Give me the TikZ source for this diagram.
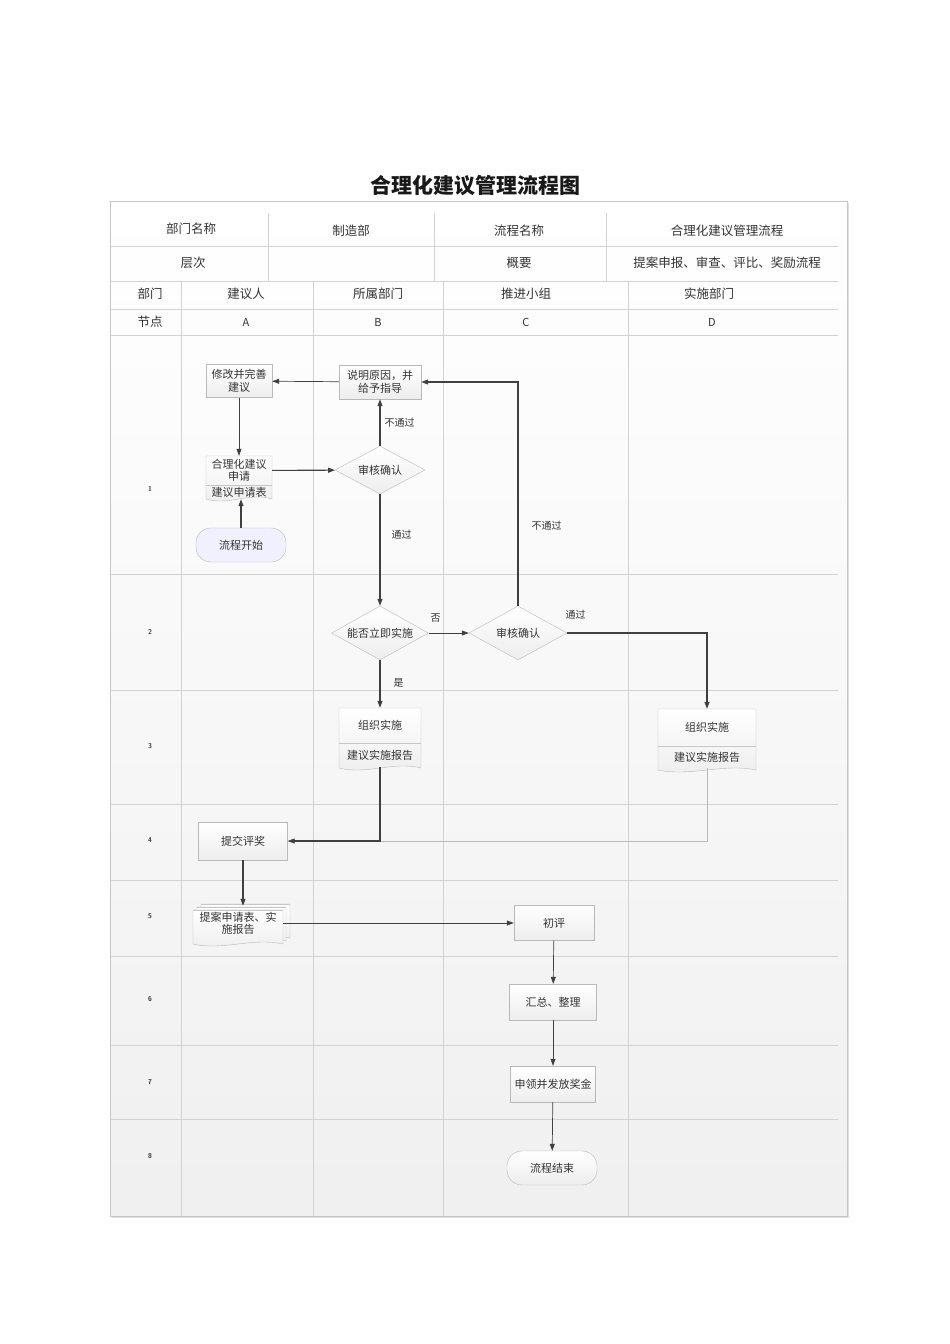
\documentclass[tikz,border=0pt]{standalone}
\usepackage{fontspec}
\setmainfont{Noto Sans CJK SC}
\usepackage{tikz}
\usetikzlibrary{arrows.meta, shapes.geometric, calc}

\tikzset{
    >={Triangle[length=7pt,width=5pt]},
    gridline/.style={gray!35, line width=0.6pt},
    hdtext/.style={font=\fontsize{12.5}{14}\selectfont, text=black!80},
    rownum/.style={font=\sffamily\bfseries\fontsize{7}{8}\selectfont, text=black!80},
    box/.style 2 args={draw=gray!55, top color=white, bottom color=gray!14,
        minimum width=#1, minimum height=#2, inner sep=0pt, align=center,
        font=\fontsize{11}{12.5}\selectfont, text=black!80},
    part/.style 2 args={minimum width=#1, minimum height=#2, inner sep=0pt,
        align=center, font=\fontsize{11}{12}\selectfont, text=black!80},
    decision/.style 2 args={diamond, draw=gray!55, top color=white, bottom color=gray!14,
        minimum width=#1, minimum height=#2, aspect=1.8, inner sep=0pt,
        font=\fontsize{11}{12}\selectfont, text=black!80},
    terminal/.style={draw=gray!55, rounded corners=15pt, minimum width=90pt,
        minimum height=34pt, font=\fontsize{11}{12}\selectfont, text=black!80},
    docfill/.style={draw=gray!55, top color=white, bottom color=gray!14},
    flow/.style={draw=black!75, line width=1.1pt, ->},
    thinflow/.style={draw=black!75, line width=0.7pt, ->},
    lbl/.style={font=\fontsize{10}{12}\selectfont, text=black!80, inner sep=1pt}
}

% document outline: left, top, right, bottom, divider
\newcommand\docshape[5]{%
    \draw[docfill] (#1,#2) -- (#3,#2) -- (#3,#4)
        .. controls ({(2*#3+#1)/3},{#4-7}) and ({(#3+2*#1)/3},{#4+7}) .. (#1,#4) -- cycle;
    \draw[gray!45] (#1,#5) -- (#3,#5);}

\begin{document}
\begin{tikzpicture}[x=1pt, y=-1pt]
    \useasboundingbox (0,0) rectangle (950,1344);

    % Title
    \node[font=\fontsize{21}{24}\selectfont\bfseries, text=black!90] (title) at (475,186) {合理化建议管理流程图};

    % Frame
    \fill[gray!25] (112,203) rectangle (849,1218);
    \draw[gray!45, top color=white, bottom color=gray!12] (110,201) rectangle (847,1216);

    % Table lines
    \draw[gridline] (110,246) -- (838,246) (110,281) -- (838,281) (110,309) -- (838,309)
        (110,335) -- (838,335) (110,574) -- (838,574) (110,690) -- (838,690)
        (110,804) -- (838,804) (110,880) -- (838,880) (110,956) -- (838,956)
        (110,1045) -- (838,1045) (110,1119) -- (838,1119);
    \draw[gridline] (268,213) -- (268,281) (434,213) -- (434,281) (606,213) -- (606,281);
    \draw[gridline] (181,281) -- (181,1216) (313,281) -- (313,1216)
        (443,281) -- (443,1216) (628,281) -- (628,1216);

    % Header texts
    \node[hdtext] (hdDept) at (191,229) {部门名称};
    \node[hdtext] (hdDeptVal) at (351,231) {制造部};
    \node[hdtext] (hdFlow) at (519,231) {流程名称};
    \node[hdtext] (hdFlowVal) at (727,231) {合理化建议管理流程};
    \node[hdtext] (hdLevel) at (193,263) {层次};
    \node[hdtext] (hdBrief) at (519,263) {概要};
    \node[hdtext] (hdBriefVal) at (727,263) {提案申报、审查、评比、奖励流程};

    % Lanes
    \node[hdtext] (laneHead) at (150,294) {部门};
    \node[hdtext] (laneA) at (246,294) {建议人};
    \node[hdtext] (laneB) at (378,294) {所属部门};
    \node[hdtext] (laneC) at (526,294) {推进小组};
    \node[hdtext] (laneD) at (709,294) {实施部门};
    \node[hdtext] (nodeHead) at (150,322) {节点};
    \node[hdtext, font=\fontsize{11}{12}\selectfont] (nodeA) at (246,322) {A};
    \node[hdtext, font=\fontsize{11}{12}\selectfont] (nodeB) at (378,322) {B};
    \node[hdtext, font=\fontsize{11}{12}\selectfont] (nodeC) at (526,322) {C};
    \node[hdtext, font=\fontsize{11}{12}\selectfont] (nodeD) at (712,322) {D};

    % Row numbers
    \node[rownum] (row1) at (150,489) {1};
    \node[rownum] (row2) at (150,632) {2};
    \node[rownum] (row3) at (150,746) {3};
    \node[rownum] (row4) at (150,840) {4};
    \node[rownum] (row5) at (150,916) {5};
    \node[rownum] (row6) at (150,999) {6};
    \node[rownum] (row7) at (150,1082) {7};
    \node[rownum] (row8) at (150,1156) {8};

    % Document shapes
    \docshape{206}{456}{272}{499}{485}
    \docshape{339}{708}{421}{768}{743}
    \docshape{658}{709}{756}{770}{746}
    \docshape{201}{904}{290}{938}{904}
    \docshape{197}{907}{286}{941}{907}
    \docshape{193}{910}{283}{944}{910}

    % Nodes
    \node[box={66pt}{33pt}] (modify) at (239,381) {修改并完善\\建议};
    \node[box={82pt}{34pt}] (explain) at (380,382) {说明原因，并\\给予指导};
    \node[part={66pt}{29pt}] (apply) at (239,470.5) {合理化建议\\申请};
    \node[part={66pt}{14pt}] (form) at (239,492) {建议申请表};
    \node[terminal, fill=blue!6] (start) at (241,545) {流程开始};
    \node[decision={90pt}{48pt}] (check1) at (380,470) {审核确认};
    \node[decision={97pt}{54pt}] (check2) at (380,633) {能否立即实施};
    \node[decision={98pt}{54pt}] (check3) at (518,633) {审核确认};
    \node[part={82pt}{35pt}] (orgB) at (380,725.5) {组织实施};
    \node[part={82pt}{24pt}] (reportB) at (380,755) {建议实施报告};
    \node[part={98pt}{37pt}] (orgD) at (707,727.5) {组织实施};
    \node[part={98pt}{22pt}] (reportD) at (707,757) {建议实施报告};
    \node[box={89pt}{38pt}] (award) at (243,841) {提交评奖};
    \node[part={90pt}{34pt}] (proposal) at (238,923) {提案申请表、实\\施报告};
    \node[box={80pt}{35pt}] (review) at (554,923) {初评};
    \node[box={87pt}{36pt}] (summary) at (553,1002) {汇总、整理};
    \node[box={85pt}{36pt}] (reward) at (553,1084) {申领并发放奖金};
    \node[terminal, top color=white, bottom color=gray!14] (finish) at (552,1168) {流程结束};

    % Connectors
    \draw[flow] (start.north) -- (start.north |- form.south);
    \draw[thinflow] (modify) -- (apply);
    \draw[thinflow] (explain) -- (modify);
    \draw[flow] (apply) -- (check1);
    \draw[flow] (check1) -- node[lbl, right=3pt, pos=0.5] (lblNo1) {不通过} (explain);
    \draw[flow] (check1) -- node[lbl, right=10pt, pos=0.36] (lblYes1) {通过} (check2);
    \draw[thinflow] (check2) -- node[lbl, above=9pt, pos=0.17] (lblNot) {否} (check3);
    \draw[flow] (check2) -- node[lbl, right=12pt, pos=0.48] (lblYes) {是} (orgB);
    \draw[flow] (check3.north) |- node[lbl, right=12pt, pos=0.18] (lblNo2) {不通过} (explain.east);
    \draw[flow] (check3.east) -| node[lbl, above=12pt, pos=0.03] (lblYes2) {通过} (orgD.north);
    \draw[gray!55, line width=0.7pt] (reportD.south) |- (award.east);
    \draw[flow] (reportB.south) |- (award.east);
    \draw[flow] (award.south) -- (award.south |- proposal.north);
    \draw[thinflow] (proposal.east) -- (review.west);
    \draw[thinflow] (review) -- (summary);
    \draw[thinflow] (summary) -- (reward);
    \draw[thinflow] (reward) -- (finish);
\end{tikzpicture}
\end{document}
